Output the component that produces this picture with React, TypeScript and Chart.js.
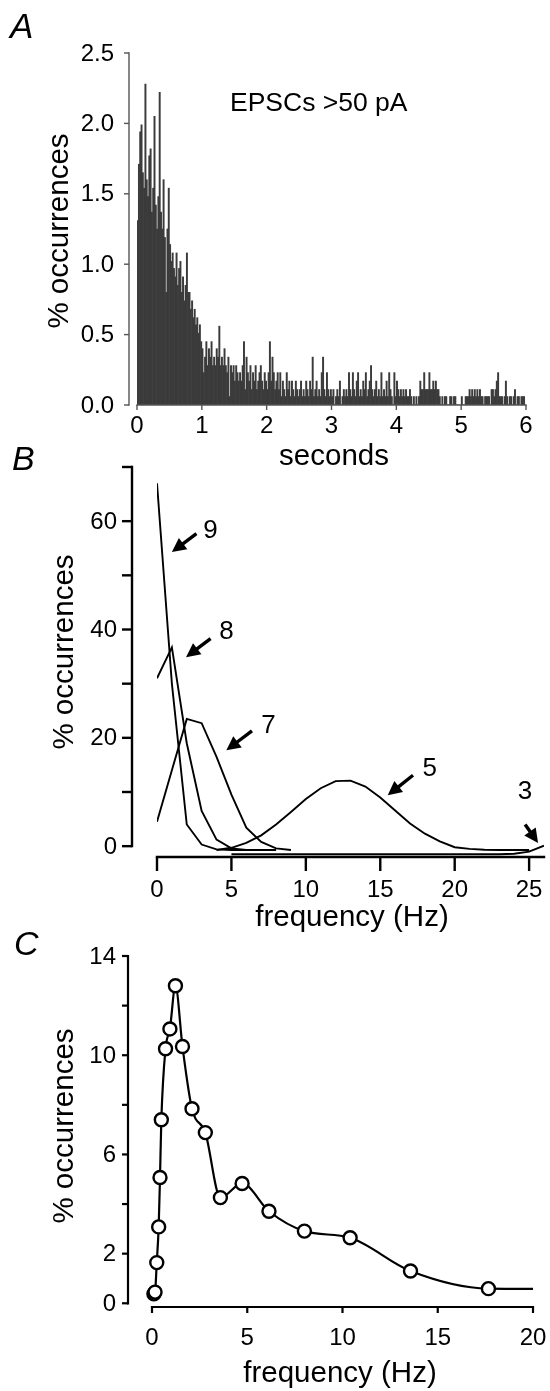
import React, { useEffect, useRef } from "react";
import { Chart, registerables } from "chart.js";

Chart.register(...registerables);

const FONT_FAMILY = '"Liberation Sans", Arial, Helvetica, sans-serif';

// ---------------- Panel A : histogram (% occurrences vs seconds) ----------------
const histBinSeconds = 0.02;
const histPercent = [
  1.31, 1.71, 1.94, 1.99, 1.65, 1.54, 2.28, 1.60, 1.48, 1.77,
  1.82, 1.37, 1.54, 2.05, 1.42, 1.25, 1.48, 2.22, 1.37, 1.25,
  1.60, 1.19, 0.80, 1.25, 1.54, 1.14, 1.02, 1.08, 0.97, 0.91,
  1.08, 0.85, 0.97, 1.02, 0.80, 0.91, 0.74, 0.85, 1.08, 0.80,
  0.80, 0.68, 0.74, 0.62, 0.68, 0.57, 0.62, 0.51, 0.57, 0.45,
  0.40, 0.23, 0.34, 0.45, 0.28, 0.40, 0.34, 0.45, 0.28, 0.34,
  0.28, 0.40, 0.34, 0.56, 0.28, 0.34, 0.28, 0.40, 0.28, 0.23,
  0.34, 0.06, 0.28, 0.23, 0.28, 0.17, 0.28, 0.23, 0.17, 0.23,
  0.17, 0.28, 0.45, 0.11, 0.34, 0.23, 0.17, 0.28, 0.11, 0.23,
  0.17, 0.28, 0.11, 0.17, 0.23, 0.28, 0.17, 0.11, 0.23, 0.17,
  0.11, 0.23, 0.45, 0.17, 0.34, 0.23, 0.11, 0.17, 0.23, 0.11,
  0.23, 0.06, 0.17, 0.11, 0.06, 0.23, 0.11, 0.17, 0.06, 0.17,
  0.11, 0.06, 0.17, 0.11, 0.06, 0.11, 0.17, 0.06, 0.11, 0.06,
  0.17, 0.11, 0.06, 0.17, 0.11, 0.34, 0.06, 0.11, 0.17, 0.06,
  0.11, 0.06, 0.23, 0.34, 0.11, 0.06, 0.23, 0.11, 0.06, 0.11,
  0.06, 0.11, 0.00, 0.06, 0.11, 0.06, 0.17, 0.00, 0.06, 0.11,
  0.06, 0.11, 0.06, 0.23, 0.11, 0.06, 0.23, 0.11, 0.06, 0.17,
  0.23, 0.06, 0.11, 0.06, 0.17, 0.11, 0.23, 0.06, 0.11, 0.17,
  0.28, 0.11, 0.06, 0.11, 0.17, 0.06, 0.11, 0.06, 0.23, 0.06,
  0.11, 0.06, 0.17, 0.06, 0.23, 0.11, 0.06, 0.00, 0.23, 0.06,
  0.17, 0.11, 0.06, 0.11, 0.06, 0.11, 0.06, 0.11, 0.06, 0.06,
  0.11, 0.06, 0.00, 0.06, 0.00, 0.06, 0.00, 0.06, 0.17, 0.11,
  0.11, 0.23, 0.11, 0.11, 0.11, 0.23, 0.11, 0.11, 0.17, 0.11,
  0.17, 0.11, 0.11, 0.06, 0.00, 0.06, 0.00, 0.06, 0.06, 0.00,
  0.00, 0.06, 0.06, 0.00, 0.06, 0.06, 0.00, 0.00, 0.00, 0.00,
  0.06, 0.00, 0.00, 0.06, 0.06, 0.06, 0.11, 0.06, 0.11, 0.06,
  0.11, 0.06, 0.11, 0.06, 0.11, 0.06, 0.06, 0.00, 0.06, 0.06,
  0.06, 0.06, 0.00, 0.11, 0.11, 0.06, 0.11, 0.17, 0.23, 0.06,
  0.06, 0.06, 0.00, 0.06, 0.17, 0.06, 0.00, 0.06, 0.06, 0.00,
  0.06, 0.11, 0.00, 0.06, 0.06, 0.00, 0.06, 0.06, 0.06, 0.00,
];
const histXTicks = [0, 1, 2, 3, 4, 5, 6];
const histYTicks = [0, 0.5, 1.0, 1.5, 2.0, 2.5];
const histNote = "EPSCs >50 pA";

// ---------------- Panel B : frequency distributions (curves 9, 8, 7, 5, 3) ----------------
const freqB9 = [0, 1, 2, 3, 4, 5, 6, 7];
const occB9 = [67, 30, 4, 0.3, -0.6, -0.7, -0.7, -0.7];
const freqB8 = [0, 1, 2, 3, 4, 5, 6, 7, 8];
const occB8 = [31, 36.7, 19, 6.5, 1.2, -0.4, -0.7, -0.7, -0.7];
const freqB7 = [0, 1, 2, 3, 4, 5, 6, 7, 8, 9];
const occB7 = [4.5, 14, 23.5, 22.7, 16.5, 9.5, 3.4, 0.8, -0.4, -0.7];
const freqB5 = [4, 5, 6, 7, 8, 9, 10, 11, 12, 13, 14, 15, 16, 17, 18, 19, 20, 21, 22, 23, 24, 25];
const occB5 = [-0.7, -0.3, 0.6, 2.0, 4.0, 6.3, 8.7, 10.7, 12.0, 12.1, 11.0, 9.0, 6.6, 4.2, 2.3, 0.9, -0.2, -0.5, -0.65, -0.7, -0.7, -0.7];
const freqB3 = [5, 23, 24, 25, 26];
const occB3 = [-1.5, -1.5, -1.4, -1.0, 0.1];
const curveNamesB = ["9", "8", "7", "5", "3"];
const xTicksB = [0, 5, 10, 15, 20, 25];
const yTicksB = [0, 10, 20, 30, 40, 50, 60, 70];
const yLabelledB = [0, 20, 40, 60];

// ---------------- Panel C : pooled frequency distribution ----------------
const freqC = [0.10, 0.16, 0.25, 0.35, 0.42, 0.49, 0.71, 0.94, 1.23, 1.60, 2.10, 2.80, 3.59, 4.73, 6.14, 8.00, 10.40, 13.57, 17.66, 20.0];
const occC = [0.38, 0.45, 1.64, 3.08, 5.07, 7.40, 10.26, 11.06, 12.80, 10.35, 7.84, 6.88, 4.26, 4.83, 3.71, 2.91, 2.64, 1.30, 0.59, 0.58];
const markerC = [true, true, true, true, true, true, true, true, true, true, true, true, true, true, true, true, true, true, true, false];
const xTicksC = [0, 5, 10, 15, 20];
const yTicksC = [0, 2, 4, 6, 8, 10, 12, 14];
const yLabelledC = [0, 2, 6, 10, 14];

// ---------------- decoration (offset axes, titles, arrows) ----------------
type Txt = { text: string; x: number; y: number; size: number; italic?: boolean; align?: CanvasTextAlign; rotate?: boolean };
type Arrow = { label: string; from: [number, number]; to: [number, number]; at: [number, number] };
type Decor = {
  color: string;
  lineWidth: number;
  tickSize: number;
  yAxisShift: number;
  yRange: [number, number];
  yTicks: number[];
  yLabelled: number[];
  yFmt: (v: number) => string;
  yTickLen: number;
  yLabelGap: number;
  xAxisShift: number;
  xRange: [number, number];
  xTicks: number[];
  xFmt: (v: number) => string;
  xTickLen: number;
  xLabelOffset: number;
  texts: Txt[];
  arrows?: Arrow[];
};

function makeDecor(d: Decor) {
  return {
    id: "decor",
    afterDraw(chart: any) {
      const ctx: CanvasRenderingContext2D = chart.ctx;
      const xs = chart.scales.x;
      const ys = chart.scales.y;
      const area = chart.chartArea;
      ctx.save();
      ctx.strokeStyle = d.color;
      ctx.fillStyle = "#000";
      ctx.lineWidth = d.lineWidth;
      ctx.lineCap = "butt";
      // y axis
      const ax = area.left + d.yAxisShift;
      ctx.beginPath();
      ctx.moveTo(ax, ys.getPixelForValue(d.yRange[0]) + d.lineWidth / 2);
      ctx.lineTo(ax, ys.getPixelForValue(d.yRange[1]) - d.lineWidth / 2);
      ctx.stroke();
      ctx.font = `${d.tickSize}px ${FONT_FAMILY}`;
      ctx.textAlign = "right";
      ctx.textBaseline = "middle";
      d.yTicks.forEach((v) => {
        const py = ys.getPixelForValue(v);
        ctx.beginPath();
        ctx.moveTo(ax, py);
        ctx.lineTo(ax - d.yTickLen, py);
        ctx.stroke();
        if (d.yLabelled.includes(v)) ctx.fillText(d.yFmt(v), ax - d.yLabelGap, py + 1);
      });
      // x axis
      const ay = area.bottom + d.xAxisShift;
      ctx.beginPath();
      ctx.moveTo(xs.getPixelForValue(d.xRange[0]) - d.lineWidth / 2, ay);
      ctx.lineTo(xs.getPixelForValue(d.xRange[1]) + d.lineWidth / 2, ay);
      ctx.stroke();
      ctx.textAlign = "center";
      d.xTicks.forEach((v) => {
        const px = xs.getPixelForValue(v);
        ctx.beginPath();
        ctx.moveTo(px, ay);
        ctx.lineTo(px, ay + d.xTickLen);
        ctx.stroke();
        ctx.fillText(d.xFmt(v), px, ay + d.xLabelOffset);
      });
      // texts
      d.texts.forEach((t) => {
        ctx.save();
        ctx.font = `${t.italic ? "italic " : ""}${t.size}px ${FONT_FAMILY}`;
        ctx.textAlign = t.align || "center";
        ctx.textBaseline = "alphabetic";
        ctx.translate(t.x, t.y);
        if (t.rotate) ctx.rotate(-Math.PI / 2);
        ctx.fillText(t.text, 0, 0);
        ctx.restore();
      });
      // arrows
      (d.arrows || []).forEach((a) => {
        const x0 = xs.getPixelForValue(a.from[0]);
        const y0 = ys.getPixelForValue(a.from[1]);
        const x1 = xs.getPixelForValue(a.to[0]);
        const y1 = ys.getPixelForValue(a.to[1]);
        const ang = Math.atan2(y1 - y0, x1 - x0);
        const hl = 14;
        const hw = 7;
        const bx = x1 - hl * Math.cos(ang);
        const by = y1 - hl * Math.sin(ang);
        ctx.strokeStyle = "#000";
        ctx.lineWidth = 3.4;
        ctx.beginPath();
        ctx.moveTo(x0, y0);
        ctx.lineTo(bx + 2 * Math.cos(ang), by + 2 * Math.sin(ang));
        ctx.stroke();
        ctx.beginPath();
        ctx.moveTo(x1, y1);
        ctx.lineTo(bx + hw * Math.sin(ang), by - hw * Math.cos(ang));
        ctx.lineTo(bx - hw * Math.sin(ang), by + hw * Math.cos(ang));
        ctx.closePath();
        ctx.fill();
        ctx.font = `26px ${FONT_FAMILY}`;
        ctx.textAlign = "center";
        ctx.textBaseline = "middle";
        ctx.fillText(a.label, xs.getPixelForValue(a.at[0]), ys.getPixelForValue(a.at[1]));
      });
      ctx.restore();
    },
  };
}

const baseOptions = (padding: any, xr: [number, number], yr: [number, number]) => ({
  responsive: false,
  maintainAspectRatio: false,
  animation: false as const,
  events: [] as any[],
  layout: { padding },
  plugins: { legend: { display: false }, tooltip: { enabled: false }, title: { display: false } },
  scales: {
    x: { type: "linear" as const, min: xr[0], max: xr[1], display: false, offset: false },
    y: { type: "linear" as const, min: yr[0], max: yr[1], display: false },
  },
});

function useChart(ref: React.RefObject<HTMLCanvasElement>, build: () => any) {
  useEffect(() => {
    if (!ref.current) return;
    const chart = new Chart(ref.current, build());
    return () => chart.destroy();
  }, []);
}

export default function App() {
  const refA = useRef<HTMLCanvasElement>(null);
  const refB = useRef<HTMLCanvasElement>(null);
  const refC = useRef<HTMLCanvasElement>(null);

  useChart(refA, () => ({
    type: "bar",
    data: {
      datasets: [
        {
          data: histPercent.map((v, i) => ({ x: (i + 0.5) * histBinSeconds, y: v })),
          backgroundColor: "#3b3b3b",
          borderWidth: 0,
          barPercentage: 1,
          categoryPercentage: 1,
        },
      ],
    },
    options: baseOptions({ left: 137, right: 24, top: 53, bottom: 75 }, [0, 6], [0, 2.5]),
    plugins: [
      makeDecor({
        color: "#555",
        lineWidth: 1.4,
        tickSize: 24,
        yAxisShift: -8,
        yRange: [0, 2.5],
        yTicks: histYTicks,
        yLabelled: histYTicks,
        yFmt: (v) => v.toFixed(1),
        yTickLen: 5,
        yLabelGap: 15,
        xAxisShift: 0,
        xRange: [0, 6],
        xTicks: histXTicks,
        xFmt: (v) => String(v),
        xTickLen: 5,
        xLabelOffset: 21,
        texts: [
          { text: "A", x: 10, y: 38, size: 35, italic: true, align: "left" },
          { text: histNote, x: 230, y: 111, size: 26.5, align: "left" },
          { text: "seconds", x: 334, y: 465, size: 29.5 },
          { text: "% occurrences", x: 68, y: 231, size: 29.5, rotate: true },
        ],
      }),
    ],
  }));

  const bSeries = [
    [freqB9, occB9],
    [freqB8, occB8],
    [freqB7, occB7],
    [freqB5, occB5],
    [freqB3, occB3],
  ];

  useChart(refB, () => ({
    type: "line",
    data: {
      datasets: bSeries.map(([xs, ys], k) => ({
        label: curveNamesB[k],
        data: xs.map((x, i) => ({ x, y: ys[i] })),
        borderColor: "#000",
        borderWidth: 1.9,
        pointRadius: 0,
        tension: 0,
        fill: false,
      })),
    },
    options: baseOptions({ left: 157, right: 6, top: 27, bottom: 83 }, [0, 26], [-2, 70]),
    plugins: [
      makeDecor({
        color: "#000",
        lineWidth: 2.4,
        tickSize: 24,
        yAxisShift: -25,
        yRange: [0, 70],
        yTicks: yTicksB,
        yLabelled: yLabelledB,
        yFmt: (v) => String(v),
        yTickLen: 10,
        yLabelGap: 15,
        xAxisShift: 0,
        xRange: [0, 26],
        xTicks: xTicksB,
        xFmt: (v) => String(v),
        xTickLen: 14,
        xLabelOffset: 33,
        texts: [
          { text: "B", x: 12, y: 30, size: 34, italic: true, align: "left" },
          { text: "frequency (Hz)", x: 352, y: 486, size: 29.5 },
          { text: "% occurrences", x: 73, y: 212, size: 29.5, rotate: true },
        ],
        arrows: [
          { label: curveNamesB[0], from: [2.65, 57.7], to: [1.0, 54.3], at: [3.6, 58.3] },
          { label: curveNamesB[1], from: [3.6, 38.3], to: [1.95, 34.9], at: [4.66, 39.5] },
          { label: curveNamesB[2], from: [6.38, 21.3], to: [4.66, 17.7], at: [7.49, 22.3] },
          { label: curveNamesB[3], from: [17.2, 13.1], to: [15.5, 9.4], at: [18.33, 14.3] },
          { label: curveNamesB[4], from: [24.73, 4.0], to: [25.6, 0.6], at: [24.73, 10] },
        ],
      }),
    ],
  }));

  useChart(refC, () => ({
    type: "line",
    data: {
      datasets: [
        {
          data: freqC.map((x, i) => ({ x, y: occC[i] })),
          borderColor: "#000",
          borderWidth: 2.2,
          cubicInterpolationMode: "monotone",
          pointRadius: markerC.map((m) => (m ? 6.5 : 0)),
          pointBackgroundColor: "#fff",
          pointBorderColor: "#000",
          pointBorderWidth: 2.4,
          clip: false,
          fill: false,
        },
      ],
    },
    options: baseOptions({ left: 152, right: 17, top: 31, bottom: 84 }, [0, 20], [-0.15, 14]),
    plugins: [
      makeDecor({
        color: "#000",
        lineWidth: 2.2,
        tickSize: 24,
        yAxisShift: -24,
        yRange: [0, 14],
        yTicks: yTicksC,
        yLabelled: yLabelledC,
        yFmt: (v) => String(v),
        yTickLen: 6,
        yLabelGap: 12,
        xAxisShift: 0,
        xRange: [0, 20],
        xTicks: xTicksC,
        xFmt: (v) => String(v),
        xTickLen: 6,
        xLabelOffset: 31,
        texts: [
          { text: "C", x: 14, y: 30, size: 34, italic: true, align: "left" },
          { text: "frequency (Hz)", x: 340, y: 457, size: 29.5 },
          { text: "% occurrences", x: 73, y: 201, size: 29.5, rotate: true },
        ],
      }),
    ],
  }));

  const cv = (top: number): React.CSSProperties => ({ position: "absolute", left: 0, top, display: "block" });

  return (
    <div style={{ position: "absolute", left: 0, top: 0, width: 550, height: 1391, background: "#fff" }}>
      <canvas ref={refA} width={550} height={480} style={cv(0)} />
      <canvas ref={refB} width={550} height={500} style={cv(440)} />
      <canvas ref={refC} width={550} height={466} style={cv(925)} />
    </div>
  );
}
